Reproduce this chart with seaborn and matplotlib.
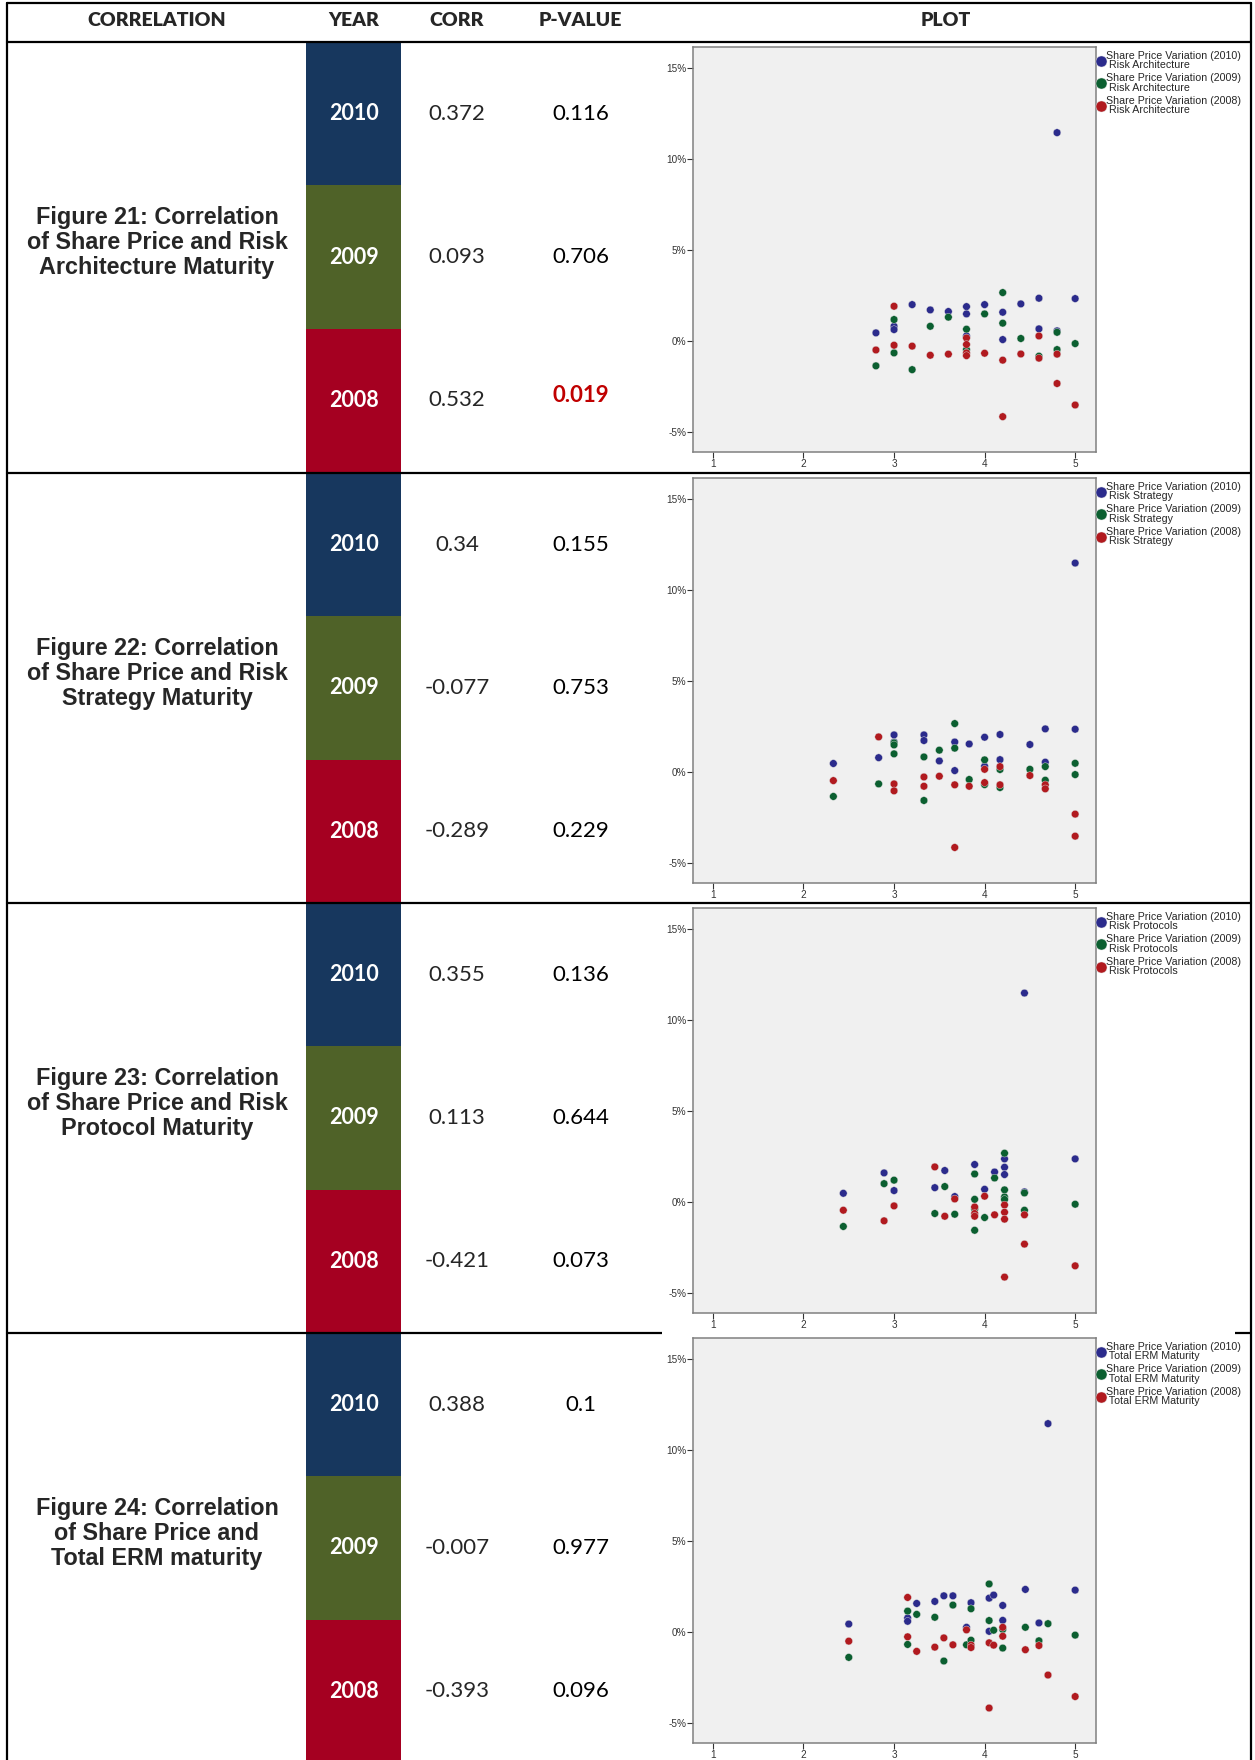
import matplotlib
matplotlib.use("Agg")
import matplotlib.pyplot as plt
from matplotlib.patches import Rectangle
import pandas as pd
import seaborn as sns

sns.set_theme(style="white")
plt.rcParams["font.family"] = ["Liberation Sans", "DejaVu Sans"]

# ---- table content ----
HEADERS = ["CORRELATION", "YEAR", "CORR", "P-VALUE", "PLOT"]
FIGURE_LABELS = [
    "Figure 21: Correlation\nof Share Price and Risk\nArchitecture Maturity",
    "Figure 22: Correlation\nof Share Price and Risk\nStrategy Maturity",
    "Figure 23: Correlation\nof Share Price and Risk\nProtocol Maturity",
    "Figure 24: Correlation\nof Share Price and\nTotal ERM maturity",
]
MEASURES = ["Risk Architecture", "Risk Strategy", "Risk Protocols", "Total ERM Maturity"]
YEARS = ["2010", "2009", "2008"]
YEAR_COLORS = ["#17375e", "#4f6228", "#a50021"]
DOT_COLORS = ["#2b2b8c", "#0b5f30", "#b11a1f"]
CORR = [[0.372, 0.093, 0.532], [0.34, -0.077, -0.289],
        [0.355, 0.113, -0.421], [0.388, -0.007, -0.393]]
PVAL = [[0.116, 0.706, 0.019], [0.155, 0.753, 0.229],
        [0.136, 0.644, 0.073], [0.1, 0.977, 0.096]]

XTICKS = [1, 2, 3, 4, 5]
YTICKS = [-5, 0, 5, 10, 15]
YTICK_LABELS = ["-5%", "0%", "5%", "10%", "15%"]

# ---- scatter data (maturity score vs share price variation in %) ----
ARCH_X_2010 = [2.8, 3.0, 3.0, 3.2, 3.4, 3.6, 3.8, 3.8, 3.8, 4.0, 4.2, 4.2, 4.4, 4.6, 4.6, 4.8, 4.8, 5.0]
ARCH_Y_2010 = [0.46, 0.82, 0.64, 2.01, 1.72, 1.63, 1.90, 1.50, 0.29, 2.01, 1.59, 0.09, 2.05, 2.36, 0.68, 11.45, 0.57, 2.34]
ARCH_X_2009 = [2.8, 3.0, 3.0, 3.2, 3.4, 3.6, 3.8, 3.8, 4.0, 4.2, 4.2, 4.4, 4.6, 4.8, 4.8, 5.0]
ARCH_Y_2009 = [-1.35, 1.19, -0.64, -1.56, 0.82, 1.32, 0.66, -0.46, 1.50, 2.67, 0.99, 0.15, -0.82, 0.49, -0.46, -0.13]
ARCH_X_2008 = [2.8, 3.0, 3.0, 3.2, 3.4, 3.6, 3.8, 3.8, 3.8, 3.8, 4.0, 4.2, 4.2, 4.4, 4.6, 4.6, 4.8, 4.8, 5.0]
ARCH_Y_2008 = [-0.48, 1.92, -0.22, -0.27, -0.77, -0.71, 0.18, -0.18, -0.64, -0.79, -0.66, -1.04, -4.14, -0.70, 0.29, -0.93, -0.71, -2.32, -3.50]

STRAT_X_2010 = [2.33, 2.83, 3.0, 3.0, 3.33, 3.33, 3.5, 3.67, 3.67, 3.83, 4.0, 4.0, 4.17, 4.17, 4.5, 4.67, 4.67, 5.0, 5.0]
STRAT_Y_2010 = [0.48, 0.80, 2.05, 1.66, 2.05, 1.74, 0.62, 1.66, 0.09, 1.55, 1.92, 0.33, 2.07, 0.69, 1.52, 2.38, 0.55, 11.48, 2.36]
STRAT_X_2009 = [2.33, 2.83, 3.0, 3.0, 3.0, 3.33, 3.33, 3.5, 3.67, 3.67, 3.83, 4.0, 4.0, 4.17, 4.17, 4.5, 4.67, 4.67, 5.0, 5.0]
STRAT_Y_2009 = [-1.33, -0.64, 1.61, 1.50, 1.01, 0.84, -1.55, 1.21, 2.67, 1.32, -0.40, 0.68, -0.68, 0.15, -0.84, 0.16, 0.31, -0.44, 0.49, -0.13]
STRAT_X_2008 = [2.33, 2.83, 3.0, 3.0, 3.33, 3.33, 3.5, 3.67, 3.67, 3.83, 4.0, 4.0, 4.17, 4.17, 4.5, 4.67, 4.67, 5.0, 5.0]
STRAT_Y_2008 = [-0.46, 1.94, -0.64, -1.02, -0.26, -0.77, -0.22, -0.69, -4.13, -0.77, 0.16, -0.57, 0.31, -0.69, -0.18, -0.69, -0.91, -2.30, -3.51]

PROT_X_2010 = [2.44, 2.89, 3.0, 3.45, 3.56, 3.67, 3.89, 4.0, 4.11, 4.22, 4.22, 4.22, 4.44, 4.44, 5.0]
PROT_Y_2010 = [0.49, 1.61, 0.64, 0.80, 1.74, 0.31, 2.07, 0.71, 1.66, 2.38, 1.92, 1.52, 11.48, 0.57, 2.38]
PROT_X_2009 = [2.44, 2.89, 3.0, 3.45, 3.56, 3.67, 3.89, 3.89, 3.89, 3.89, 4.0, 4.11, 4.22, 4.22, 4.22, 4.22, 4.44, 4.44, 5.0]
PROT_Y_2009 = [-1.33, 1.02, 1.21, -0.62, 0.86, -0.66, 1.55, 0.16, -0.38, -1.54, -0.84, 1.33, 2.69, 0.68, 0.29, 0.15, 0.51, -0.44, -0.11]
PROT_X_2008 = [2.44, 2.89, 3.0, 3.45, 3.56, 3.67, 3.89, 3.89, 3.89, 4.0, 4.11, 4.22, 4.22, 4.22, 4.22, 4.44, 4.44, 5.0]
PROT_Y_2008 = [-0.44, -1.02, -0.20, 1.94, -0.77, 0.18, -0.26, -0.62, -0.77, 0.33, -0.69, -0.15, -0.55, -0.93, -4.11, -0.69, -2.30, -3.49]

TOTAL_X_2010 = [2.5, 3.15, 3.15, 3.25, 3.45, 3.55, 3.65, 3.8, 3.85, 4.05, 4.05, 4.1, 4.2, 4.2, 4.45, 4.6, 4.7, 5.0]
TOTAL_Y_2010 = [0.45, 0.78, 0.60, 1.58, 1.69, 2.0, 2.0, 0.27, 1.62, 1.87, 0.05, 2.04, 1.47, 0.65, 2.35, 0.51, 11.45, 2.31]
TOTAL_X_2009 = [2.5, 3.15, 3.15, 3.25, 3.45, 3.55, 3.65, 3.8, 3.85, 3.85, 4.05, 4.05, 4.1, 4.2, 4.2, 4.45, 4.6, 4.7, 5.0]
TOTAL_Y_2009 = [-1.38, 1.16, -0.67, 0.98, 0.82, -1.58, 1.49, -0.69, 1.29, -0.44, 2.65, 0.64, 0.11, 0.15, -0.87, 0.27, -0.47, 0.47, -0.16]
TOTAL_X_2008 = [2.5, 3.15, 3.15, 3.25, 3.45, 3.55, 3.65, 3.8, 3.85, 3.85, 4.05, 4.05, 4.1, 4.2, 4.2, 4.45, 4.6, 4.7, 5.0]
TOTAL_Y_2008 = [-0.49, 1.91, -0.25, -1.05, -0.82, -0.31, -0.69, 0.13, -0.71, -0.84, -0.58, -4.16, -0.71, 0.27, -0.22, -0.96, -0.73, -2.35, -3.53]

PLOT_SERIES = [
    [(ARCH_X_2010, ARCH_Y_2010), (ARCH_X_2009, ARCH_Y_2009), (ARCH_X_2008, ARCH_Y_2008)],
    [(STRAT_X_2010, STRAT_Y_2010), (STRAT_X_2009, STRAT_Y_2009), (STRAT_X_2008, STRAT_Y_2008)],
    [(PROT_X_2010, PROT_Y_2010), (PROT_X_2009, PROT_Y_2009), (PROT_X_2008, PROT_Y_2008)],
    [(TOTAL_X_2010, TOTAL_Y_2010), (TOTAL_X_2009, TOTAL_Y_2009), (TOTAL_X_2008, TOTAL_Y_2008)],
]

# ---- layout (pixels) ----
W, H = 1255, 1760
ROW_TOP = [42, 473, 903, 1333]
ROW_H = 430
HEAD_X = [157, 354, 457, 580, 946]
YEAR_X0, YEAR_X1 = 306, 401
CORR_X, PVAL_X = 457, 581
PLOT_X, PLOT_W, PLOT_H = 693, 403, 405

fig = plt.figure(figsize=(W / 100, H / 100), dpi=100)
bg = fig.add_axes([0, 0, 1, 1])
bg.set_xlim(0, W)
bg.set_ylim(H, 0)
bg.axis("off")

calibri = ["Lato", "DejaVu Sans"]
arial = ["Liberation Sans", "DejaVu Sans"]

# header
for label, x in zip(HEADERS, HEAD_X):
    bg.text(x, 21, label, ha="center", va="center", fontsize=14,
            fontweight="heavy", family=calibri)

sub_h = ROW_H / 3
for r, top in enumerate(ROW_TOP):
    bg.text(157, top + 0.467 * ROW_H, FIGURE_LABELS[r], ha="center", va="center",
            multialignment="center", fontsize=16.8, fontweight="bold",
            family=arial, linespacing=1.12)
    for k, year in enumerate(YEARS):
        y0 = top + k * sub_h
        bg.add_patch(Rectangle((YEAR_X0, y0), YEAR_X1 - YEAR_X0, sub_h + 0.5,
                               facecolor=YEAR_COLORS[k], edgecolor="none"))
        yc = y0 + sub_h / 2
        bg.text((YEAR_X0 + YEAR_X1) / 2, yc, year, ha="center", va="center",
                color="white", fontsize=15.5, fontweight="bold", family=calibri)
        bg.text(CORR_X, yc, str(CORR[r][k]), ha="center", va="center",
                fontsize=16, family=calibri)
        sig = PVAL[r][k] < 0.05
        bg.text(PVAL_X, yc - (5 if sig else 0), str(PVAL[r][k]), ha="center", va="center",
                fontsize=16, family=calibri,
                color="#c00000" if sig else "black",
                fontweight="bold" if sig else "normal")

# table lines
lw = 1.6
bg.plot([7, 1251], [3, 3], color="black", lw=lw)
for y in ROW_TOP:
    bg.plot([7, 1251], [y, y], color="black", lw=lw)
bg.plot([7, 7], [3, H], color="black", lw=lw)
bg.plot([1251, 1251], [3, H], color="black", lw=lw)
# last plot picture covers part of the row line
bg.add_patch(Rectangle((662, ROW_TOP[3] - 3), 1235 - 662, 6,
                       facecolor="white", edgecolor="none", zorder=5))

# scatter plots
for r, top in enumerate(ROW_TOP):
    ptop = top + 5
    ax = fig.add_axes([PLOT_X / W, 1 - (ptop + PLOT_H) / H, PLOT_W / W, PLOT_H / H])
    frames = []
    for k, (xs, ys) in enumerate(PLOT_SERIES[r]):
        frames.append(pd.DataFrame({
            "maturity": xs, "variation": ys,
            "series": f"Share Price Variation ({YEARS[k]})\n {MEASURES[r]}",
        }))
    df = pd.concat(frames, ignore_index=True)
    hue_order = list(df["series"].unique())
    sns.scatterplot(data=df, x="maturity", y="variation", hue="series",
                    hue_order=hue_order, palette=DOT_COLORS, s=30,
                    linewidth=0.3, edgecolor="#dddddd", ax=ax)
    ax.set_facecolor("#f0f0f0")
    ax.set_xlim(0.78, 5.23)
    ax.set_ylim(-6.08, 16.15)
    ax.set_xticks(XTICKS)
    ax.set_xticklabels([str(t) for t in XTICKS])
    ax.set_yticks(YTICKS)
    ax.set_yticklabels(YTICK_LABELS)
    ax.set_xlabel("")
    ax.set_ylabel("")
    for sp in ax.spines.values():
        sp.set_visible(True)
        sp.set_color("#808080")
        sp.set_linewidth(1.1)
    ax.tick_params(bottom=True, left=True, direction="out", length=4, width=0.8,
                   color="#333333", labelsize=7.2, labelcolor="#333333", pad=1)
    for t in ax.get_xticklabels() + ax.get_yticklabels():
        t.set_family(arial)

    handles, labels = ax.get_legend_handles_labels()
    leg = ax.legend(handles, labels, loc="upper left", bbox_to_anchor=(1.0, 0.997),
                    frameon=False, fontsize=7.7, borderaxespad=0.1, borderpad=0.15,
                    handlelength=0.45, handletextpad=0.25, labelspacing=0.3,
                    markerscale=1.45)
    for t in leg.get_texts():
        t.set_linespacing(0.92)
        t.set_family(arial)

fig.savefig("out.png", dpi=100)
